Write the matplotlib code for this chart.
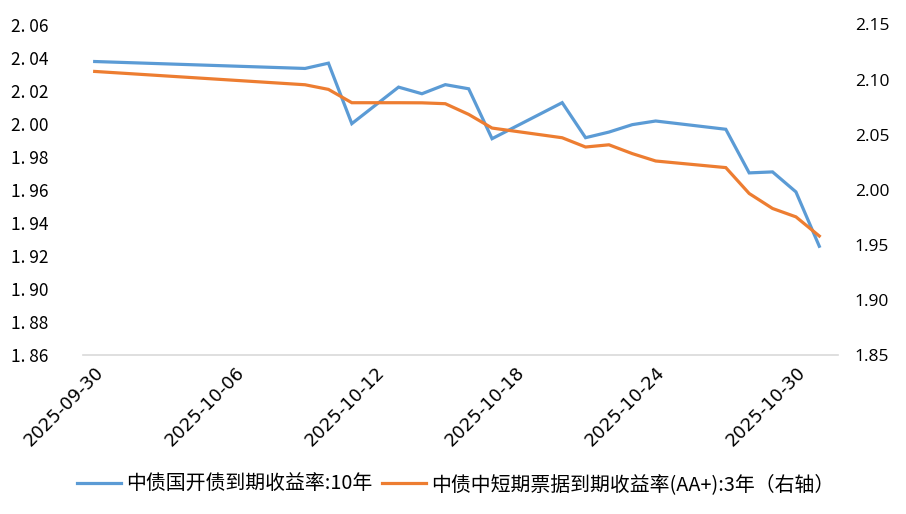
import matplotlib
matplotlib.use("Agg")
import numpy as np
import pandas as pd
from matplotlib import pyplot as plt
from matplotlib.ticker import FixedLocator, FuncFormatter

plt.rcParams['font.family'] = ['Noto Sans CJK SC', 'DejaVu Sans']

# datos
fechas = ["2025-09-30", "2025-10-09", "2025-10-10", "2025-10-11", "2025-10-13",
          "2025-10-14", "2025-10-15", "2025-10-16", "2025-10-17", "2025-10-20",
          "2025-10-21", "2025-10-22", "2025-10-23", "2025-10-24", "2025-10-27",
          "2025-10-28", "2025-10-29", "2025-10-30", "2025-10-31"]
gk_10y = [2.0376, 2.0334, 2.0366, 2.0000, 2.0221, 2.0181, 2.0236, 2.0211, 1.9909, 2.0127,
          1.9915, 1.9949, 1.9994, 2.0016, 1.9966, 1.9702, 1.9708, 1.9587, 1.9258]
mtn_3y = [2.1074, 2.0953, 2.0911, 2.0790, 2.0790, 2.0789, 2.0781, 2.0684, 2.0560, 2.0472,
          2.0388, 2.0408, 2.0328, 2.0261, 2.0201, 1.9966, 1.9830, 1.9754, 1.9580]
etiquetas_x = ["2025-09-30", "2025-10-06", "2025-10-12", "2025-10-18", "2025-10-24", "2025-10-30"]
nombres = ["中债国开债到期收益率:10年", "中债中短期票据到期收益率(AA+):3年（右轴）"]

inicio = pd.Timestamp(fechas[0])
dias = np.array([(pd.Timestamp(f) - inicio).days for f in fechas]) + 0.5
ticks = [(pd.Timestamp(f) - inicio).days + 0.5 for f in etiquetas_x]

fig = plt.figure(figsize=(9.06, 5.14), dpi=100)
ax = fig.add_axes([83 / 906, 1 - 355 / 514, (838 - 83) / 906, (355 - 24.5) / 514])
ax2 = ax.twinx()

l1, = ax.plot(dias, gk_10y, color="#5B9BD5", lw=2.3, solid_joinstyle="miter")
l2, = ax2.plot(dias, mtn_3y, color="#ED7D31", lw=2.3, solid_joinstyle="miter")

ax.set_xlim(0, 32.3)
ax.set_ylim(1.86, 2.06)
ax.set_yticks(np.arange(1.86, 2.0601, 0.02))
ax.yaxis.set_major_formatter(FuncFormatter(lambda v, p: f"{v:.2f}".replace(".", ". ")))
ax2.set_ylim(1.85, 2.15)
ax2.set_yticks(np.arange(1.85, 2.1501, 0.05))
ax2.yaxis.set_major_formatter(FuncFormatter(lambda v, p: f"{v:.2f}"))

ax.xaxis.set_major_locator(FixedLocator(ticks))
ax.set_xticklabels(etiquetas_x, rotation=45, ha="right", rotation_mode="anchor",
                   fontsize=13, family=["DejaVu Sans"])

for a in (ax, ax2):
    for s in a.spines.values():
        s.set_visible(False)
    a.tick_params(length=0)
ax.spines["bottom"].set_visible(True)
ax.spines["bottom"].set_color("#D9D9D9")
ax.spines["bottom"].set_linewidth(1.2)

ax.tick_params(axis="y", labelsize=12.5, pad=25)
ax.tick_params(axis="x", pad=6)
ax2.tick_params(axis="y", labelsize=12.5, pad=12)
for t in ax2.get_yticklabels():
    t.set_family(["Open Sans", "DejaVu Sans"])

fig.legend([l1, l2], nombres, loc="center", bbox_to_anchor=(0.503, 0.058), ncol=2,
           frameon=False, fontsize=14.3, handlelength=2.2, columnspacing=0.5,
           handletextpad=0.25)

fig.savefig("out.png", dpi=100)
